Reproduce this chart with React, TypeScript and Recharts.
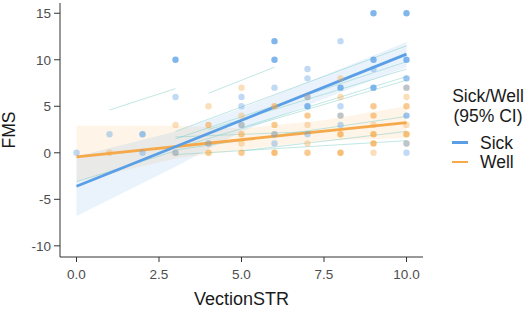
import React from 'react';
import { ComposedChart, Scatter, Line, Area, XAxis, YAxis, Label } from 'recharts';

// observed points: x = VectionSTR, y = FMS, n = overlapping observations
const sickPoints = [
  { x: 0, y: 0, n: 1 }, { x: 1, y: 2, n: 1 }, { x: 2, y: 2, n: 2 }, { x: 2, y: 0, n: 1 },
  { x: 3, y: 10, n: 3 }, { x: 3, y: 6, n: 1 }, { x: 3, y: 0, n: 1 },
  { x: 4, y: 1, n: 1 },
  { x: 5, y: 6, n: 1 }, { x: 5, y: 5, n: 1 }, { x: 5, y: 3, n: 1 },
  { x: 6, y: 12, n: 3 }, { x: 6, y: 10, n: 3 }, { x: 6, y: 7, n: 1 }, { x: 6, y: 2, n: 1 }, { x: 6, y: 1, n: 1 },
  { x: 7, y: 9, n: 1 }, { x: 7, y: 8, n: 1 }, { x: 7, y: 6, n: 1 }, { x: 7, y: 5, n: 3 }, { x: 7, y: 2, n: 1 },
  { x: 8, y: 12, n: 1 }, { x: 8, y: 7, n: 3 }, { x: 8, y: 5, n: 1 }, { x: 8, y: 4, n: 1 }, { x: 8, y: 3, n: 1 },
  { x: 9, y: 15, n: 3 }, { x: 9, y: 10, n: 3 }, { x: 9, y: 9, n: 1 }, { x: 9, y: 7, n: 3 },
  { x: 10, y: 15, n: 3 }, { x: 10, y: 10, n: 3 }, { x: 10, y: 8, n: 2 }, { x: 10, y: 7, n: 1 },
  { x: 10, y: 4, n: 2 }, { x: 10, y: 1, n: 1 }, { x: 10, y: 0, n: 1 },
];

const wellPoints = [
  { x: 1, y: 0, n: 1 },
  { x: 3, y: 3, n: 1 }, { x: 3, y: 0, n: 1 },
  { x: 4, y: 5, n: 1 }, { x: 4, y: 3, n: 2 }, { x: 4, y: 1, n: 1 }, { x: 4, y: 0, n: 2 },
  { x: 5, y: 7, n: 1 }, { x: 5, y: 4, n: 1 }, { x: 5, y: 3, n: 1 }, { x: 5, y: 2, n: 2 }, { x: 5, y: 1, n: 1 }, { x: 5, y: 0, n: 2 },
  { x: 6, y: 5, n: 2 }, { x: 6, y: 3, n: 2 }, { x: 6, y: 2, n: 1 }, { x: 6, y: 0, n: 3 },
  { x: 7, y: 6, n: 1 }, { x: 7, y: 4, n: 2 }, { x: 7, y: 3, n: 1 }, { x: 7, y: 1, n: 1 }, { x: 7, y: 0, n: 2 },
  { x: 8, y: 8, n: 1 }, { x: 8, y: 6, n: 1 }, { x: 8, y: 4, n: 1 }, { x: 8, y: 2, n: 3 }, { x: 8, y: 0, n: 3 },
  { x: 9, y: 5, n: 2 }, { x: 9, y: 4, n: 2 }, { x: 9, y: 3, n: 1 }, { x: 9, y: 2, n: 3 }, { x: 9, y: 1, n: 3 }, { x: 9, y: 0, n: 1 },
  { x: 10, y: 7, n: 1 }, { x: 10, y: 6, n: 1 }, { x: 10, y: 5, n: 2 }, { x: 10, y: 3, n: 1 }, { x: 10, y: 2, n: 3 }, { x: 10, y: 1, n: 1 },
];

// fitted lines and 95% CI bands
const sickFit = [{ x: 0, y: -3.6 }, { x: 10, y: 10.6 }];
const wellFit = [{ x: 0, y: -0.45 }, { x: 10, y: 3.25 }];

const sickBand = [
  { x: 0, band: [-6.8, -0.4] },
  { x: 3, band: [-1.5, 2.3] },
  { x: 5, band: [2.3, 4.8] },
  { x: 7.5, band: [5.8, 8.3] },
  { x: 10, band: [9.2, 11.9] },
];
const wellBand = [
  { x: 0, band: [-3.1, 2.9] },
  { x: 3, band: [-0.6, 2.9] },
  { x: 5, band: [0.3, 2.6] },
  { x: 7.5, band: [1.3, 3.5] },
  { x: 10, band: [1.6, 5.0] },
];

// per-participant fits (thin lines)
const subjectLines = [
  [{ x: 1, y: 4.6 }, { x: 3, y: 6.9 }],
  [{ x: 4, y: 6.4 }, { x: 6, y: 9.2 }],
  [{ x: 3, y: 2.3 }, { x: 10, y: 11.5 }],
  [{ x: 3, y: 1.5 }, { x: 10, y: 9.8 }],
  [{ x: 4, y: 2.5 }, { x: 10, y: 9.0 }],
  [{ x: 5, y: 2.7 }, { x: 10, y: 8.2 }],
  [{ x: 3, y: 0.5 }, { x: 10, y: 7.8 }],
  [{ x: 0, y: -3.1 }, { x: 3, y: 0.2 }],
  [{ x: 3, y: -0.2 }, { x: 10, y: 1.3 }],
  [{ x: 3, y: 0.3 }, { x: 10, y: 3.9 }],
  [{ x: 3, y: 1.7 }, { x: 8, y: 2.4 }],
  [{ x: 5, y: 0.2 }, { x: 10, y: 2.3 }],
];

const xTicks = [0, 2.5, 5, 7.5, 10];
const yTicks = [-10, -5, 0, 5, 10, 15];

const SICK = '#5a9fe6';
const WELL = '#f5a94a';
const FONT = '"Liberation Sans", Arial, sans-serif';

const dot = (color: string) => (props: any) => {
  const n = props.payload?.n || 1;
  const op = 1 - Math.pow(0.62, n);
  return <circle cx={props.cx} cy={props.cy} r={3.2} fill={color} fillOpacity={op} />;
};

export default function App() {
  return (
    <div style={{ position: 'absolute', left: 0, top: 0, width: 526, height: 310, background: '#fff', fontFamily: FONT }}>
      <ComposedChart width={526} height={310} margin={{ top: 3, right: 103, left: 0, bottom: 0 }}>
        <XAxis
          type="number"
          dataKey="x"
          domain={[-0.5, 10.5]}
          ticks={xTicks}
          tickFormatter={(v: number) => v.toFixed(1)}
          height={53}
          tickSize={5}
          tickMargin={7}
          stroke="#333"
          tick={{ fill: '#4d4d4d', fontSize: 13.5, fontFamily: FONT }}
        >
          <Label value="VectionSTR" position="insideBottom" offset={5} style={{ fill: '#1a1a1a', fontSize: 18, fontFamily: FONT }} />
        </XAxis>
        <YAxis
          type="number"
          dataKey="y"
          domain={[-11.2, 16.1]}
          ticks={yTicks}
          width={60}
          tickSize={6}
          tickMargin={3}
          stroke="#333"
          allowDataOverflow
          tick={{ fill: '#4d4d4d', fontSize: 13.5, fontFamily: FONT }}
        >
          <Label value="FMS" angle={-90} position="insideLeft" offset={9} style={{ fill: '#1a1a1a', fontSize: 17.5, fontFamily: FONT, textAnchor: 'middle' }} />
        </YAxis>

        <Area data={wellBand} dataKey="band" type="linear" stroke="none" fill={WELL} fillOpacity={0.13} isAnimationActive={false} />
        <Area data={sickBand} dataKey="band" type="linear" stroke="none" fill={SICK} fillOpacity={0.13} isAnimationActive={false} />

        <Scatter data={wellPoints} dataKey="y" shape={dot(WELL)} isAnimationActive={false} />
        <Scatter data={sickPoints} dataKey="y" shape={dot(SICK)} isAnimationActive={false} />

        {subjectLines.map((d, i) => (
          <Line key={i} data={d} dataKey="y" type="linear" stroke="#7fcfc6" strokeOpacity={0.55} strokeWidth={0.9} dot={false} activeDot={false} isAnimationActive={false} />
        ))}

        <Line data={wellFit} dataKey="y" type="linear" stroke={WELL} strokeWidth={2.8} dot={false} activeDot={false} isAnimationActive={false} />
        <Line data={sickFit} dataKey="y" type="linear" stroke={SICK} strokeWidth={2.8} dot={false} activeDot={false} isAnimationActive={false} />
      </ComposedChart>

      <div style={{ position: 'absolute', left: 450, top: 86, fontSize: 17.5, lineHeight: '20px', color: '#1a1a1a', textAlign: 'center', width: 76 }}>
        <div>Sick/Well</div>
        <div>(95% CI)</div>
      </div>
      <div style={{ position: 'absolute', left: 452, top: 134, fontSize: 17.5, lineHeight: '19.3px', color: '#1a1a1a' }}>
        <div style={{ display: 'flex', alignItems: 'flex-start' }}>
          <span style={{ display: 'inline-block', width: 16, height: 2.6, marginTop: 7.4, background: SICK, marginRight: 12 }} />
          Sick
        </div>
        <div style={{ display: 'flex', alignItems: 'flex-start' }}>
          <span style={{ display: 'inline-block', width: 16, height: 2.6, marginTop: 7.4, background: WELL, marginRight: 12 }} />
          Well
        </div>
      </div>
    </div>
  );
}
